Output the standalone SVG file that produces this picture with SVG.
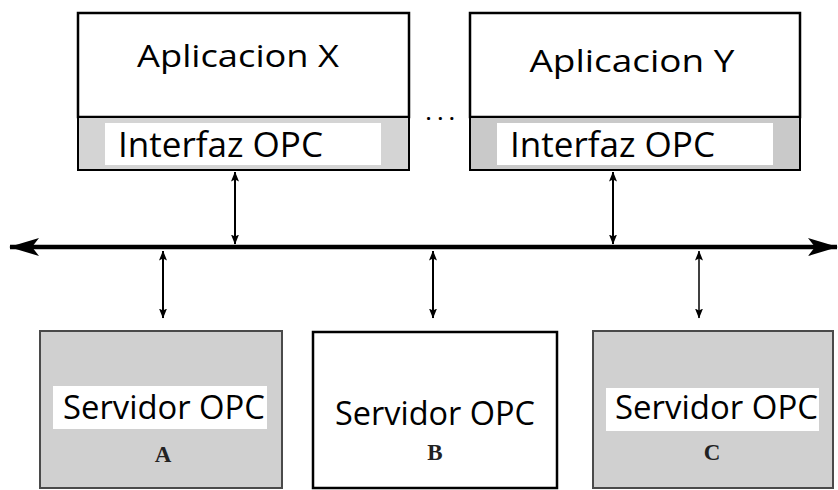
<svg xmlns="http://www.w3.org/2000/svg" width="838" height="490" viewBox="0 0 838 490">
  <style>
    .app { fill: #ffffff; stroke: #000000; stroke-width: 2.5; }
    .strip { fill: #d4d4d4; stroke: #000000; stroke-width: 2; }
    .pad { fill: #ffffff; stroke: none; }
    .srv-gray { fill: #d0d0d0; stroke: #4a4a4a; stroke-width: 2; }
    .srv-white { fill: #ffffff; stroke: #000000; stroke-width: 2.5; }
    .label { font-family: "Open Sans", "Noto Sans", sans-serif; fill: #000000; }
    .letter { font-family: "Liberation Serif", serif; font-weight: bold; font-size: 23px; fill: #222222; text-anchor: middle; }
    .bus { stroke: #000000; stroke-width: 4.5; fill: none; }
    .link { stroke: #000000; stroke-width: 2; fill: none; }
  </style>
  <defs>
    <marker id="busHead" viewBox="0 0 30 18" refX="29" refY="9" markerWidth="30" markerHeight="18" markerUnits="userSpaceOnUse" orient="auto-start-reverse">
      <path d="M0,0 L30,9 L0,18 L7,9 Z" fill="#000000"/>
    </marker>
    <marker id="tip" viewBox="0 0 10 10" refX="9.5" refY="5" markerWidth="10" markerHeight="10" markerUnits="userSpaceOnUse" orient="auto-start-reverse">
      <path d="M0,1 L10,5 L0,9 L2,5 Z" fill="#000000"/>
    </marker>
  </defs>

  <!-- Application X with its OPC interface -->
  <g id="app-x">
    <rect class="app" x="78" y="13" width="331" height="104"/>
    <rect class="strip" x="78" y="117" width="331" height="53"/>
    <rect class="pad" x="105" y="123" width="276" height="42"/>
    <text class="label" x="238" y="67" font-size="31" text-anchor="middle" textLength="202" lengthAdjust="spacingAndGlyphs">Aplicacion X</text>
    <text class="label" x="118" y="157" font-size="34" textLength="205" lengthAdjust="spacingAndGlyphs">Interfaz OPC</text>
  </g>

  <g id="ellipsis">
    <text class="label" x="426" y="120" font-size="18" font-weight="bold" letter-spacing="6.5">...</text>
  </g>

  <!-- Application Y with its OPC interface -->
  <g id="app-y">
    <rect class="app" x="470" y="13" width="330" height="104"/>
    <rect class="strip" x="470" y="117" width="330" height="53" style="fill:#c9c9c9"/>
    <rect class="pad" x="497" y="123" width="276" height="42"/>
    <text class="label" x="632" y="72" font-size="31" text-anchor="middle" textLength="205" lengthAdjust="spacingAndGlyphs">Aplicacion Y</text>
    <text class="label" x="510" y="157" font-size="34" textLength="205" lengthAdjust="spacingAndGlyphs">Interfaz OPC</text>
  </g>

  <!-- OPC servers -->
  <g id="server-a">
    <rect class="srv-gray" x="40" y="331" width="242" height="157"/>
    <rect class="pad" x="53" y="386" width="214" height="43"/>
    <text class="label" x="63" y="419" font-size="33" textLength="202" lengthAdjust="spacingAndGlyphs">Servidor OPC</text>
    <text class="letter" x="163" y="462">A</text>
  </g>

  <g id="server-b">
    <rect class="srv-white" x="313" y="332" width="244" height="156"/>
    <text class="label" x="335" y="425" font-size="33" textLength="200" lengthAdjust="spacingAndGlyphs">Servidor OPC</text>
    <text class="letter" x="435" y="460">B</text>
  </g>

  <g id="server-c">
    <rect class="srv-gray" x="593" y="331" width="240" height="157"/>
    <rect class="pad" x="606" y="388" width="213" height="43"/>
    <text class="label" x="615" y="419" font-size="33" textLength="203" lengthAdjust="spacingAndGlyphs">Servidor OPC</text>
    <text class="letter" x="712" y="460">C</text>
  </g>

  <!-- Bus and the links to it -->
  <g id="connectors">
    <line class="bus" x1="10" y1="247" x2="837" y2="247" marker-start="url(#busHead)" marker-end="url(#busHead)"/>
    <line class="link" x1="235" y1="172" x2="235" y2="244" marker-start="url(#tip)" marker-end="url(#tip)"/>
    <line class="link" x1="613" y1="172" x2="613" y2="244" marker-start="url(#tip)" marker-end="url(#tip)"/>
    <line class="link" x1="163" y1="251" x2="163" y2="318" marker-start="url(#tip)" marker-end="url(#tip)"/>
    <line class="link" x1="433" y1="251" x2="433" y2="318" marker-start="url(#tip)" marker-end="url(#tip)"/>
    <line class="link" x1="699" y1="251" x2="699" y2="318" marker-start="url(#tip)" marker-end="url(#tip)" style="stroke-width:1.5"/>
  </g>
</svg>
